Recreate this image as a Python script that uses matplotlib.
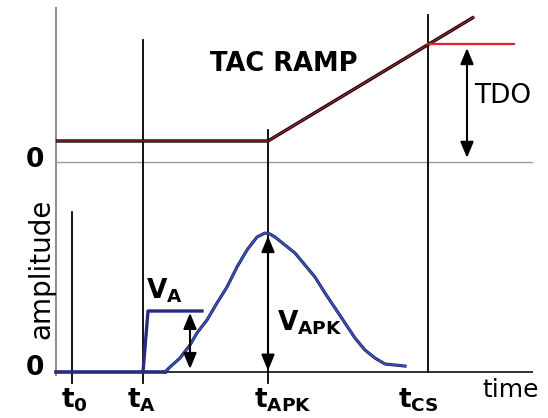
import numpy as np
import matplotlib
matplotlib.use('Agg')
import matplotlib.pyplot as plt

plt.rcParams['font.family'] = ['DejaVu Sans']
plt.rcParams['mathtext.default'] = 'regular'

# time marks (arbitrary time units)
t_marks = [4.0, 21.75, 53.0, 93.0]
t_labels = [r'$t_0$', r'$t_A$', r'$t_{APK}$', r'$t_{CS}$']
t_end = 119.0

# detector pulse (amplitude, VAPK = 1)
pulse_t = [27.25, 28.5, 31.0, 33.5, 35.25, 37.75, 40.25, 42.75, 45.25, 47.75, 50.25, 52.25,
           53.5, 54.75, 57.25, 59.75, 62.25, 64.75, 67.25, 69.75, 72.25, 74.75, 77.25,
           79.75, 82.25, 87.25]
pulse_a = [0.0, 0.036, 0.101, 0.196, 0.283, 0.377, 0.5, 0.616, 0.761, 0.884, 0.978, 1.007,
           1.0, 0.978, 0.92, 0.862, 0.775, 0.688, 0.572, 0.464, 0.355, 0.246, 0.159,
           0.101, 0.058, 0.043]

# threshold step VA
va_t = [21.75, 23.0, 36.5]
va_a = [0.0, 0.442, 0.442]
v_a = 0.442
v_apk = 1.0

# TAC ramp (relative to its own zero line)
tac_t = [0.0, 53.0, 104.5]
tac_v = [0.152, 0.152, 1.051]
tdo = 0.855
tac_zero = 1.522   # where the TAC panel zero sits on the amplitude scale


def main():
    fig = plt.figure(figsize=(5.48, 4.18), dpi=100)
    ax = fig.add_axes([0, 0, 1, 1])
    ax.set_xlim(-14, 123)
    ax.set_ylim(-0.3333, 2.6957)
    ax.axis('off')

    # axes lines
    ax.plot([0, 0], [-0.02, 2.64], color='#8a8a8a', lw=1.4)
    ax.plot([0, t_end], [tac_zero, tac_zero], color='#9a9a9a', lw=1.0)
    ax.plot([0, t_end], [0, 0], color='#303030', lw=1.4)

    # marker lines
    tops = [1.159, 2.406, 1.754, 2.587]
    bottoms = [-0.08, -0.08, -0.08, 0.0]
    for t, top, bot in zip(t_marks, tops, bottoms):
        ax.plot([t, t], [bot, top], color='black', lw=1.3)

    # TAC ramp
    tac_y = [tac_zero + v for v in tac_v]
    ax.plot(tac_t, tac_y, color='black', lw=2.4, solid_capstyle='butt')
    ax.plot(tac_t, tac_y, color='#b8202e', lw=0.9)
    ax.plot([t_marks[3], 114.5], [tac_zero + tdo, tac_zero + tdo], color='#e42030', lw=1.6)

    # pulse
    ax.plot([0, pulse_t[0]], [0, 0], color='#2a2a80', lw=2.6)
    ax.plot(pulse_t, pulse_a, color='#101030', lw=2.2, solid_joinstyle='round')
    ax.plot(pulse_t, pulse_a, color='#3a4ec0', lw=1.4, solid_joinstyle='round')
    ax.plot(va_t, va_a, color='#2a2a80', lw=2.4)

    arrow = dict(arrowstyle='<|-|>,head_length=0.6,head_width=0.25', color='black',
                 lw=1.5, mutation_scale=16, shrinkA=0, shrinkB=0)
    ax.annotate('', xy=(33.5, 0.022), xytext=(33.5, v_a - 0.014), arrowprops=arrow)
    ax.annotate('', xy=(t_marks[2], 0.01), xytext=(t_marks[2], v_apk - 0.015), arrowprops=arrow)
    ax.annotate('', xy=(102.75, tac_zero + 0.03), xytext=(102.75, tac_zero + tdo - 0.03),
                arrowprops=arrow)

    # texts
    ax.text(38.5, 2.23, 'TAC RAMP', fontsize=18.5, fontweight='bold', va='center')
    ax.text(104.5, 2.0, 'TDO', fontsize=19, va='center')
    ax.text(22.5, 0.536, r'$V_A$', fontsize=19, fontweight='bold', va='baseline')
    ax.text(55.25, 0.304, r'$V_{APK}$', fontsize=19, fontweight='bold', va='baseline')
    ax.text(-5.25, tac_zero + 0.015, '0', fontsize=19, fontweight='bold', ha='center', va='center')
    ax.text(-5.25, 0.03, '0', fontsize=19, fontweight='bold', ha='center', va='center')
    ax.text(-3.75, 0.75, 'amplitude', fontsize=20, rotation=90, ha='center', va='center')
    ax.text(106.5, -0.18, 'time', fontsize=18, va='baseline')

    offsets = [-2.75, -4.0, -3.5, -7.5]
    for t, lab, off in zip(t_marks, t_labels, offsets):
        ax.text(t + off, -0.255, lab, fontsize=19, fontweight='bold', va='baseline')

    fig.savefig('out.png', dpi=100)


if __name__ == '__main__':
    main()
